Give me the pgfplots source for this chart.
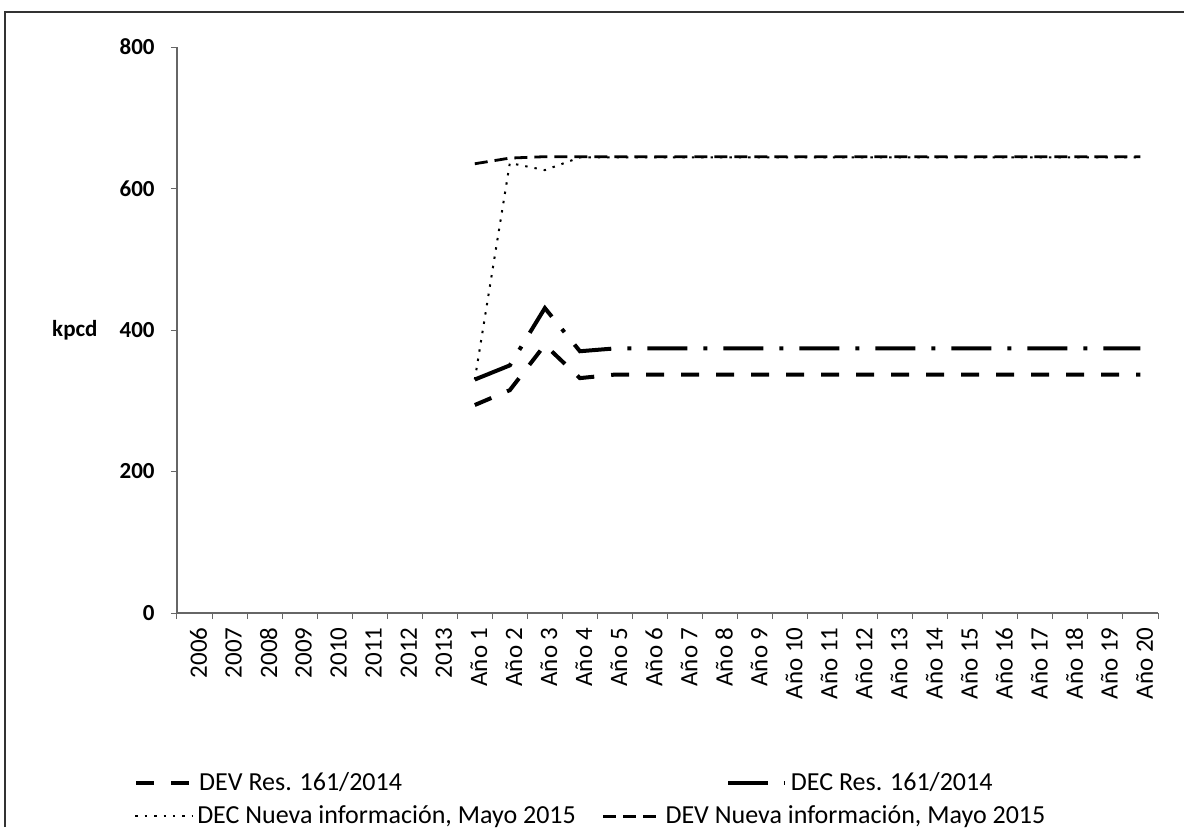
\documentclass[border=0pt]{standalone}
\usepackage{pgfplots}
\pgfplotsset{compat=1.18}
\usepackage{fontspec}
\setmainfont{Carlito}
\begin{document}
\fontsize{12}{14}\selectfont
\begin{tikzpicture}
\useasboundingbox (-88.5pt,-107pt) rectangle (503.5pt,306.5pt);
\draw[black!80, line width=0.8pt] (-86pt,-107pt) -- (-86pt,300.5pt) -- (503.5pt,300.5pt);
\pgfplotsset{
  legimg/.style={legend image code/.code={\draw[##1] (0cm,0cm) -- (1.0cm,0cm);}},
}
\begin{axis}[
  scale only axis,
  width=490.5pt, height=283pt,
  xmin=-0.5, xmax=27.5, ymin=0, ymax=800,
  axis x line*=bottom, axis y line*=left,
  axis line style={black!60, line width=0.6pt, -},
  xtick={0,...,27},
  xticklabels={2006,2007,2008,2009,2010,2011,2012,2013,Año 1,Año 2,Año 3,Año 4,Año 5,Año 6,Año 7,Año 8,Año 9,Año 10,Año 11,Año 12,Año 13,Año 14,Año 15,Año 16,Año 17,Año 18,Año 19,Año 20},
  major x tick style={draw=none},
  minor xtick={-0.5,0.5,...,27.5},
  minor x tick style={black!60, line width=0.5pt},
  minor tick length=3pt,
  tick align=outside,
  ytick={0,200,400,600,800},
  major y tick style={black!60, line width=0.5pt},
  major tick length=3pt,
  /pgf/number format/assume math mode=true,
  xticklabel style={rotate=90, anchor=east, font=\fontsize{12.5}{14}\selectfont, yshift=-2pt},
  yticklabel style={font=\fontsize{11.5}{13}\selectfont\bfseries, xshift=-4pt},
  every axis y label/.style={at={(axis description cs:-0.0724,0.5)}, anchor=east, font=\fontsize{11.5}{13}\selectfont\bfseries},
  ylabel={kpcd},
  legend columns=2,
  legend cell align=left,
  legend style={at={(axis description cs:-0.05,-0.266)}, anchor=north west, draw=none, fill=none,
    font=\fontsize{13}{15}\selectfont,
    /tikz/every even column/.append style={column sep=160pt}},
  legimg,
]
\addplot[black, line width=2pt, dash pattern=on 9pt off 8.5pt] coordinates {
(8,294) (9,315) (10,379) (11,332) (12,337) (13,337) (14,337) (15,337) (16,337) (17,337) (18,337) (19,337) (20,337) (21,337) (22,337) (23,337) (24,337) (25,337) (26,337) (27,337)};
\addlegendentry{DEV Res. 161/2014}
\addplot[black, line width=2pt, dash pattern=on 20pt off 8pt on 2pt off 8pt] coordinates {
(8,330) (9,350) (10,431) (11,370) (12,374) (13,374) (14,374) (15,374) (16,374) (17,374) (18,374) (19,374) (20,374) (21,374) (22,374) (23,374) (24,374) (25,374) (26,374) (27,374)};
\addlegendentry{DEC Res. 161/2014}
\addplot[black, line width=1pt, dash pattern=on 1.2pt off 3.5pt] coordinates {
(8,330) (9,636) (10,626) (11,644) (12,644) (13,644) (14,644) (15,644) (16,644) (17,644) (18,644) (19,644) (20,644) (21,644) (22,644) (23,644) (24,644) (25,644) (26,644) (27,644)};
\addplot[black, line width=1.4pt, dash pattern=on 6.5pt off 3.5pt] coordinates {
(8,635) (9,643) (10,645) (11,645) (12,645) (13,645) (14,645) (15,645) (16,645) (17,645) (18,645) (19,645) (20,645) (21,645) (22,645) (23,645) (24,645) (25,645) (26,645) (27,645)};
\end{axis}
\begin{axis}[
  scale only axis, hide axis,
  width=490.5pt, height=283pt,
  xmin=-0.5, xmax=27.5, ymin=0, ymax=800,
  legend columns=2,
  legend cell align=left,
  legend style={at={(axis description cs:-0.05,-0.325)}, anchor=north west, draw=none, fill=none,
    font=\fontsize{13}{15}\selectfont,
    /tikz/every even column/.append style={column sep=11pt}},
  legimg,
]
\addlegendimage{black, line width=1pt, dash pattern=on 1.2pt off 3.5pt}
\addlegendentry{DEC Nueva información, Mayo 2015}
\addlegendimage{black, line width=1.4pt, dash pattern=on 6.5pt off 3.5pt}
\addlegendentry{DEV Nueva información, Mayo 2015}
\end{axis}
\end{tikzpicture}
\end{document}
